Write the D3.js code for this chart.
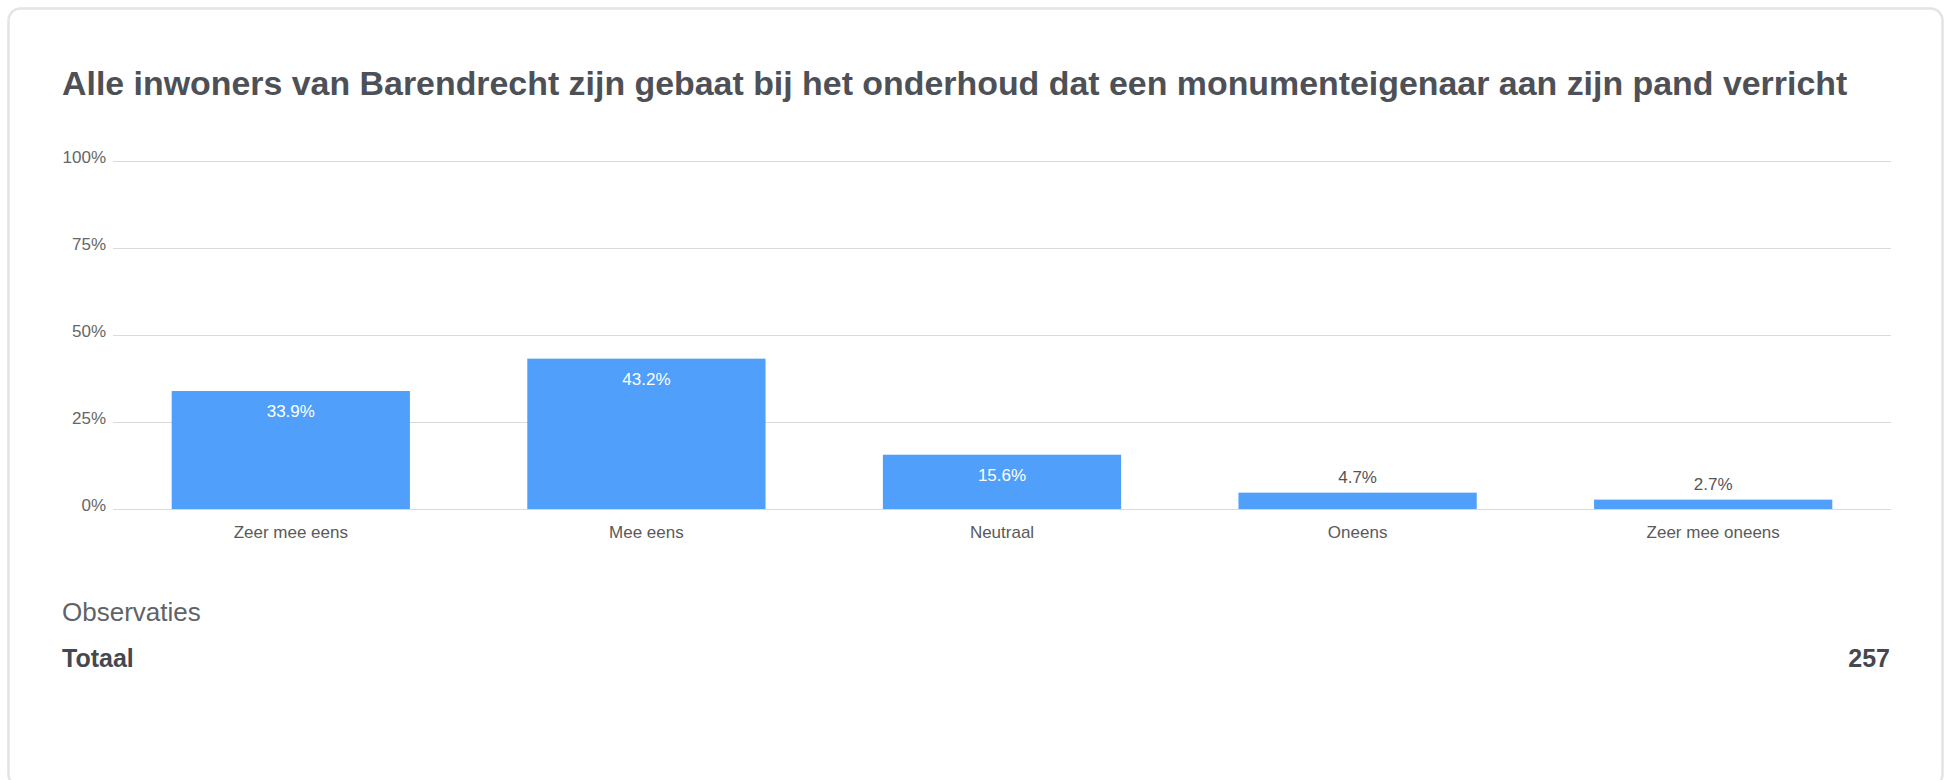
<!DOCTYPE html>
<html>
<head>
<meta charset="utf-8">
<script src="https://cdn.jsdelivr.net/npm/d3@7/dist/d3.min.js"></script>
<style>
  html, body { margin: 0; padding: 0; background: #fff; }
  svg { display: block; font-family: "Liberation Sans", Arial, Helvetica, sans-serif; }
  .grid line { stroke: #dadada; stroke-width: 1; }
  .grid text { fill: #666; font-size: 17px; }
  .xaxis text { fill: #5a5a5a; font-size: 17px; }
</style>
</head>
<body>
<div id="chart"></div>
<script>
var title = "Alle inwoners van Barendrecht zijn gebaat bij het onderhoud dat een monumenteigenaar aan zijn pand verricht";
var categories = ["Zeer mee eens", "Mee eens", "Neutraal", "Oneens", "Zeer mee oneens"];
var values = [33.9, 43.2, 15.6, 4.7, 2.7];
var yTicks = [0, 25, 50, 75, 100];
var totalLabel = "Totaal";
var totalValue = 257;

var width = 1957,
    height = 780;

var svg = d3.select("#chart").append("svg")
    .attr("width", width)
    .attr("height", height);

// kaart
svg.append("rect")
    .attr("x", 8.5)
    .attr("y", 8.5)
    .attr("width", 1934)
    .attr("height", 778)
    .attr("rx", 12)
    .attr("fill", "#fff")
    .attr("stroke", "#e4e4e4")
    .attr("stroke-width", 2.5);

svg.append("text")
    .attr("x", 62)
    .attr("y", 95)
    .attr("fill", "#4d5157")
    .attr("font-size", 33.9)
    .attr("font-weight", 700)
    .text(title);

var x = d3.scaleBand()
    .domain(categories)
    .range([113, 1891])
    .paddingInner(0.33)
    .paddingOuter(0.165);

var y = d3.scaleLinear()
    .domain([0, 100])
    .range([509, 161]);

// gridlines + y labels
var grid = svg.append("g")
    .attr("class", "grid")
    .attr("transform", "translate(113,0)")
    .call(d3.axisLeft(y)
      .tickValues(yTicks)
      .tickSize(-(1891 - 113))
      .tickPadding(7)
      .tickFormat(function(d){ return d + "%"; }));
grid.select(".domain").remove();
grid.selectAll("text").attr("dy", "0.09em");

var xAxis = svg.append("g")
    .attr("class", "xaxis")
    .attr("transform", "translate(0," + y(0) + ")")
    .call(d3.axisBottom(x).tickSize(0).tickPadding(17));
xAxis.select(".domain").remove();

var data = categories.map(function(c, i){ return {cat: c, val: values[i]}; });

svg.selectAll(".bar")
    .data(data)
    .enter()
    .append("rect")
    .attr("class", "bar")
    .attr("x", function(d){ return x(d.cat); })
    .attr("y", function(d){ return y(d.val); })
    .attr("width", x.bandwidth())
    .attr("height", function(d){ return y(0) - y(d.val); })
    .attr("fill", "#509ffa");

// waarden: binnen de balk als er ruimte is, anders erboven
svg.selectAll(".val")
    .data(data)
    .enter()
    .append("text")
    .attr("class", "val")
    .attr("x", function(d){ return x(d.cat) + x.bandwidth() / 2; })
    .attr("y", function(d){
      return d.val > 10 ? y(d.val) + 26 : y(d.val) - 10;
    })
    .attr("text-anchor", "middle")
    .attr("font-size", 17)
    .attr("fill", function(d){ return d.val > 10 ? "#fff" : "#555"; })
    .text(function(d){ return d.val.toFixed(1) + "%"; });

svg.append("text")
    .attr("x", 62)
    .attr("y", 621)
    .attr("fill", "#5f6368")
    .attr("font-size", 26)
    .text("Observaties");

svg.append("text")
    .attr("x", 62)
    .attr("y", 667)
    .attr("fill", "#45494e")
    .attr("font-size", 25)
    .attr("font-weight", 700)
    .text(totalLabel);

svg.append("text")
    .attr("x", 1890)
    .attr("y", 667)
    .attr("text-anchor", "end")
    .attr("fill", "#45494e")
    .attr("font-size", 25)
    .attr("font-weight", 700)
    .text(totalValue);
</script>
</body>
</html>
